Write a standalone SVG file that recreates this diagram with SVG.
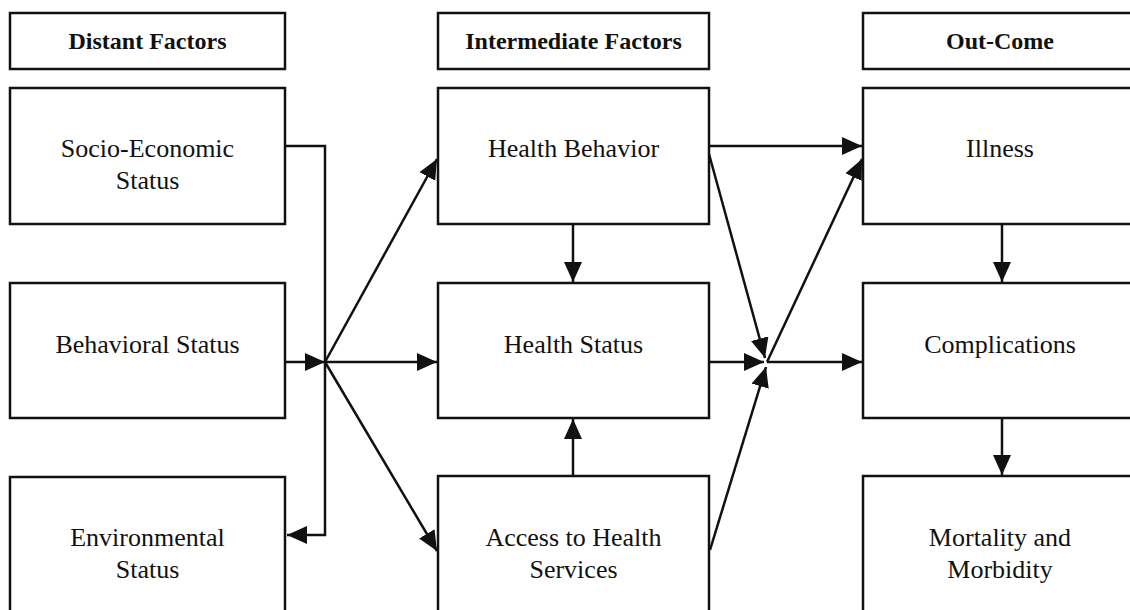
<svg xmlns="http://www.w3.org/2000/svg" width="1130" height="610" viewBox="0 0 1130 610">
<defs>
<marker id="ah" markerUnits="userSpaceOnUse" markerWidth="22" markerHeight="20" refX="20" refY="9" orient="auto">
<path d="M0,0 L20,9 L0,18 z" fill="#111"/>
</marker>
<style>
.box{fill:#fff;stroke:#111;stroke-width:2.5}
.hd{font-family:"Liberation Serif","Times New Roman",serif;font-weight:bold;font-size:24px;fill:#111;text-anchor:middle}
.tx{font-family:"Liberation Serif","Times New Roman",serif;font-size:26px;fill:#111;text-anchor:middle}
.cn{fill:none;stroke:#111;stroke-width:2.5;marker-end:url(#ah)}
</style>
</defs>
<rect width="1130" height="610" fill="#fff"/>
<g id="h1"><rect class="box" x="10" y="13" width="275" height="56"/><text class="hd" x="147.5" y="49">Distant Factors</text></g>
<g id="h2"><rect class="box" x="438" y="13" width="271" height="56"/><text class="hd" x="573.5" y="49">Intermediate Factors</text></g>
<g id="h3"><rect class="box" x="863" y="13" width="275" height="56"/><text class="hd" x="1000" y="49">Out-Come</text></g>
<g id="socio"><rect class="box" x="10" y="88" width="275" height="136"/><text class="tx" x="147.5" y="157">Socio-Economic</text><text class="tx" x="147.5" y="189">Status</text></g>
<g id="behavioral"><rect class="box" x="10" y="283" width="275" height="135"/><text class="tx" x="147.5" y="353">Behavioral Status</text></g>
<g id="environmental"><rect class="box" x="10" y="477" width="275" height="150"/><text class="tx" x="147.5" y="546">Environmental</text><text class="tx" x="147.5" y="578">Status</text></g>
<g id="hbehavior"><rect class="box" x="438" y="88" width="271" height="136"/><text class="tx" x="573.5" y="157">Health Behavior</text></g>
<g id="hstatus"><rect class="box" x="438" y="283" width="271" height="135"/><text class="tx" x="573.5" y="353">Health Status</text></g>
<g id="access"><rect class="box" x="438" y="476" width="271" height="150"/><text class="tx" x="573.5" y="546">Access to Health</text><text class="tx" x="573.5" y="578">Services</text></g>
<g id="illness"><rect class="box" x="863" y="88" width="275" height="136"/><text class="tx" x="1000" y="157">Illness</text></g>
<g id="complications"><rect class="box" x="863" y="283" width="275" height="135"/><text class="tx" x="1000" y="353">Complications</text></g>
<g id="mortality"><rect class="box" x="863" y="476" width="275" height="150"/><text class="tx" x="1000" y="546">Mortality and</text><text class="tx" x="1000" y="578">Morbidity</text></g>
<g id="connectors">
<polyline class="cn" points="285,146 325,146 325,535 287,535"/>
<line class="cn" x1="285" y1="362" x2="325" y2="362"/>
<line class="cn" x1="325" y1="362" x2="437" y2="159"/>
<line class="cn" x1="325" y1="362" x2="437" y2="362"/>
<line class="cn" x1="325" y1="362" x2="437" y2="551"/>
<line class="cn" x1="573" y1="224" x2="573" y2="282"/>
<line class="cn" x1="573" y1="476" x2="573" y2="419"/>
<line class="cn" x1="709" y1="146" x2="862" y2="146"/>
<line class="cn" x1="709" y1="154" x2="765" y2="358"/>
<line class="cn" x1="709" y1="362" x2="764" y2="362"/>
<line class="cn" x1="710" y1="550" x2="766" y2="367"/>
<line class="cn" x1="767" y1="362" x2="862" y2="362"/>
<line class="cn" x1="767" y1="362" x2="862" y2="159"/>
<line class="cn" x1="1002" y1="224" x2="1002" y2="282"/>
<line class="cn" x1="1002" y1="418" x2="1002" y2="475"/>
</g>
</svg>
